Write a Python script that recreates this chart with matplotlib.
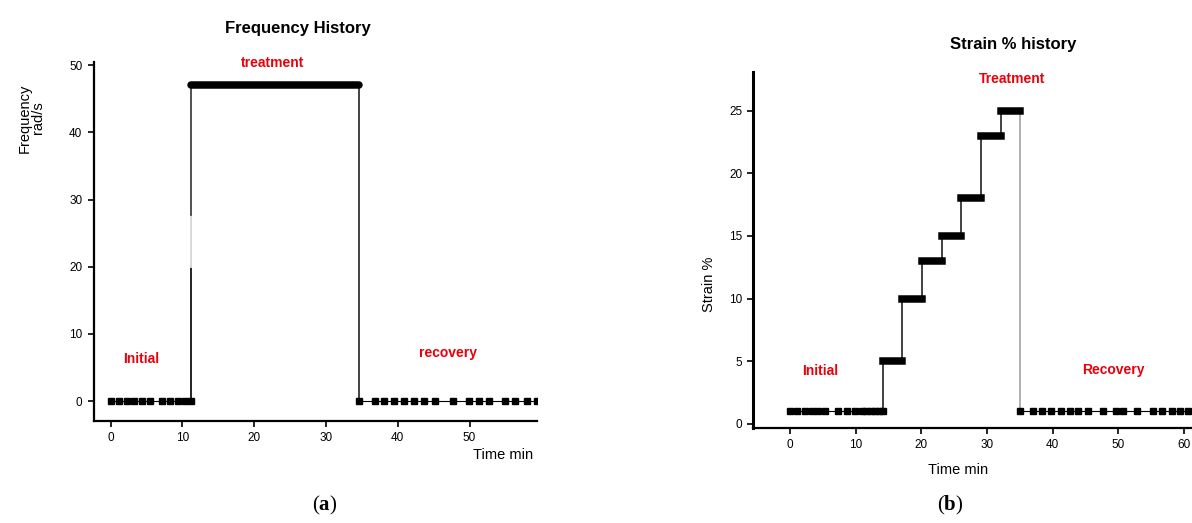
import numpy as np
import matplotlib
matplotlib.use('Agg')
import matplotlib.pyplot as plt

plt.rcParams['font.family'] = ['Liberation Sans', 'DejaVu Sans']
plt.rcParams['mathtext.fontset'] = 'custom'
plt.rcParams['mathtext.rm'] = 'Liberation Serif'
plt.rcParams['mathtext.bf'] = 'Liberation Serif:bold'

# (a) frequency history, rad/s
freq_initial_t = [0, 1.1, 2.2, 3.3, 4.3, 5.5, 7.2, 8.3, 9.4, 10.4, 11.2]
freq_initial_v = [0] * len(freq_initial_t)
freq_treat_t = [11.2, 34.6]
freq_treat_v = 47
freq_recovery_t = [34.6, 36.8, 38.1, 39.5, 40.8, 42.3, 43.7, 45.2, 47.7,
                   49.9, 51.3, 52.7, 55.0, 56.4, 58.0, 59.4]
freq_recovery_v = [0] * len(freq_recovery_t)

# (b) strain % history
strain_initial_t = [0, 1.1, 2.3, 3.3, 4.3, 5.3, 7.3, 8.6, 9.9, 10.9, 11.6,
                    12.3, 13.0, 13.6, 14.2]
strain_initial_v = [1] * len(strain_initial_t)
strain_step_start = [14.2, 17.1, 20.1, 23.1, 26.1, 29.1, 32.1]
strain_step_end = [17.1, 20.1, 23.1, 26.1, 29.1, 32.1, 35.0]
strain_step_v = [5, 10, 13, 15, 18, 23, 25]
strain_recovery_t = [35.0, 37.0, 38.3, 39.8, 41.3, 42.6, 43.9, 45.4, 47.7,
                     49.7, 50.7, 52.8, 55.3, 56.6, 58.1, 59.4, 60.6]
strain_recovery_v = [1] * len(strain_recovery_t)

RED = '#e8000b'
W, H = 1192, 523

fig = plt.figure(figsize=(W / 100, H / 100), dpi=100)


def style_axes(ax):
    for side in ('top', 'right'):
        ax.spines[side].set_visible(False)
    for side in ('left', 'bottom'):
        ax.spines[side].set_linewidth(1.6)
    ax.tick_params(direction='out', length=4, width=1.2, labelsize=8.5, pad=4)


def dotted_series(ax, t, v):
    ax.plot(t, v, color='black', lw=0.8, marker='s', ms=4.8,
            mec='black', mfc='black', zorder=3)


# ---- (a) ----
ax1 = fig.add_axes([93.5 / W, 1 - 420.7 / H, (537 - 93.5) / W, (420.7 - 61.7) / H])
style_axes(ax1)
ax1.set_xlim(-2.4, 59.4)
ax1.set_ylim(-2.9, 50.5)
ax1.set_xticks([0, 10, 20, 30, 40, 50])
ax1.set_yticks([0, 10, 20, 30, 40, 50])

dotted_series(ax1, freq_initial_t, freq_initial_v)
dotted_series(ax1, freq_recovery_t, freq_recovery_v)
ax1.plot(freq_treat_t, [freq_treat_v] * 2, color='black', lw=5.4,
         solid_capstyle='round', zorder=3)
# rise at the start of treatment, with a faded stretch in the middle
ax1.plot([freq_treat_t[0]] * 2, [0, 19.9], color='black', lw=1.2, zorder=2)
ax1.plot([freq_treat_t[0]] * 2, [19.9, 27.7], color='#d8d8d8', lw=1.4, zorder=2)
ax1.plot([freq_treat_t[0]] * 2, [27.7, freq_treat_v], color='#333333', lw=1.2, zorder=2)
ax1.plot([freq_treat_t[1]] * 2, [0, freq_treat_v], color='#222222', lw=1.2, zorder=2)

ax1.text(22.6, 50.3, 'treatment', color=RED, fontsize=10, fontweight='bold',
         ha='center', va='center')
ax1.text(4.3, 6.3, 'Initial', color=RED, fontsize=10, fontweight='bold',
         ha='center', va='center')
ax1.text(47.0, 7.2, 'recovery', color=RED, fontsize=10, fontweight='bold',
         ha='center', va='center')

fig.text(298 / W, 1 - 28 / H, 'Frequency History', fontsize=12,
         fontweight='bold', ha='center', va='center')
fig.text(31 / W, 1 - 118 / H, 'Frequency\nrad/s', fontsize=10.5, rotation=90,
         ha='center', va='center', multialignment='center', linespacing=0.95)
fig.text(533 / W, 1 - 455 / H, 'Time min', fontsize=10.5, ha='right', va='center')

# ---- (b) ----
ax2 = fig.add_axes([753.3 / W, 1 - 428.3 / H, (W - 753.3) / W, (428.3 - 71.7) / H])
style_axes(ax2)
ax2.spines['left'].set_linewidth(2.2)
ax2.set_xlim(-5.6, 61.2)
ax2.set_ylim(-0.35, 28.1)
ax2.set_xticks([0, 10, 20, 30, 40, 50, 60])
ax2.set_yticks([0, 5, 10, 15, 20, 25])

dotted_series(ax2, strain_initial_t, strain_initial_v)
dotted_series(ax2, strain_recovery_t, strain_recovery_v)

prev_v = strain_initial_v[-1]
for t0, t1, v in zip(strain_step_start, strain_step_end, strain_step_v):
    ax2.plot([t0, t0], [prev_v, v], color='#222222', lw=1.2, zorder=2)
    ax2.plot([t0, t1], [v, v], color='black', lw=5.4,
             solid_capstyle='projecting', zorder=3)
    prev_v = v
ax2.plot([strain_step_end[-1]] * 2, [prev_v, strain_recovery_v[0]],
         color='#9a9a9a', lw=1.1, zorder=2)

ax2.text(33.8, 27.5, 'Treatment', color=RED, fontsize=10, fontweight='bold',
         ha='center', va='center')
ax2.text(4.6, 4.2, 'Initial', color=RED, fontsize=10, fontweight='bold',
         ha='center', va='center')
ax2.text(49.3, 4.3, 'Recovery', color=RED, fontsize=10, fontweight='bold',
         ha='center', va='center')

fig.text(1013 / W, 1 - 45 / H, 'Strain % history', fontsize=12,
         fontweight='bold', ha='center', va='center')
fig.text(709 / W, 1 - 284 / H, 'Strain %', fontsize=10.5, rotation=90,
         ha='center', va='center')
fig.text(958 / W, 1 - 470 / H, 'Time min', fontsize=10.5, ha='center', va='center')

# panel captions
fig.text(325 / W, 1 - 505 / H, r'($\mathbf{a}$)', fontsize=15,
         family='Liberation Serif', ha='center', va='center')
fig.text(950 / W, 1 - 505 / H, r'($\mathbf{b}$)', fontsize=15,
         family='Liberation Serif', ha='center', va='center')

fig.savefig('out.png', dpi=100)
